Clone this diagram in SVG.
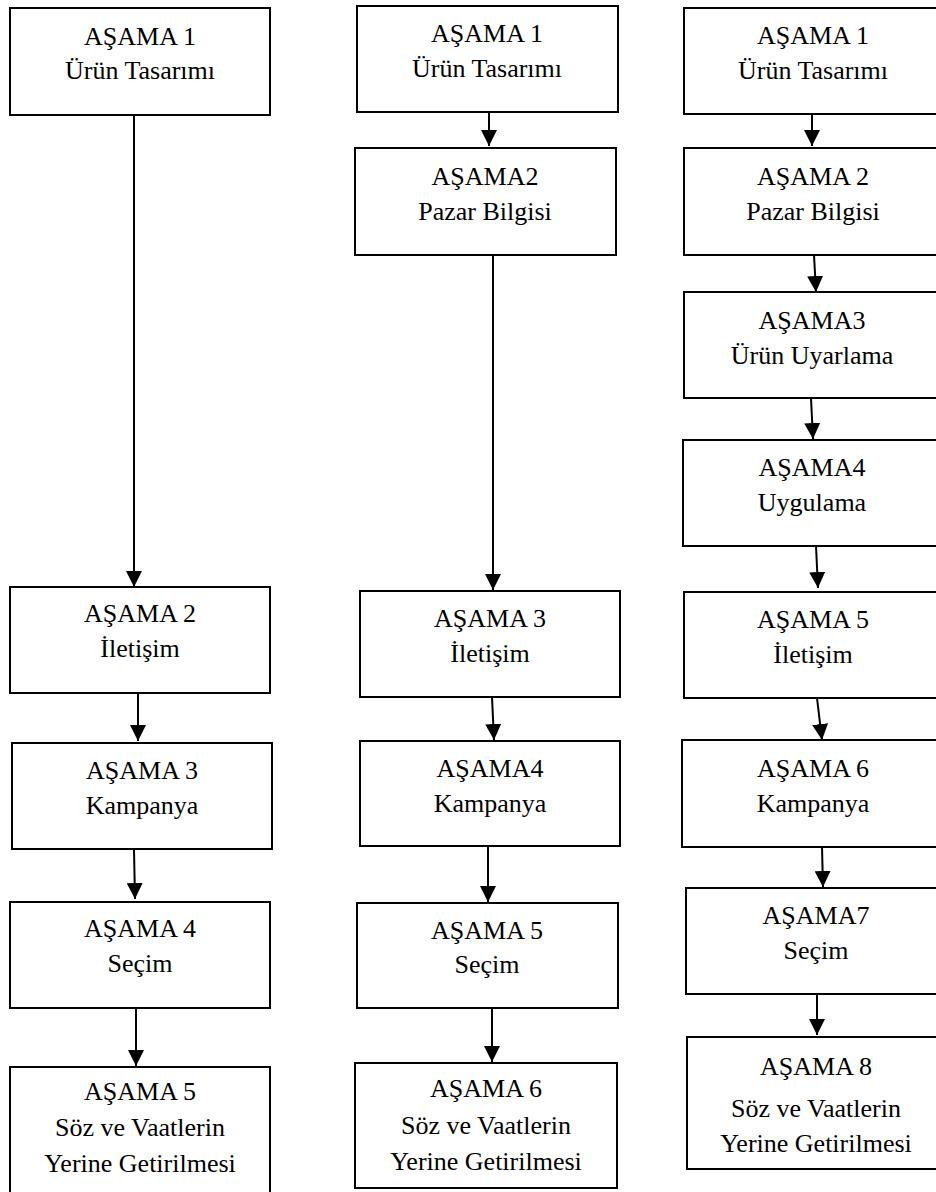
<svg xmlns="http://www.w3.org/2000/svg" width="936" height="1192" viewBox="0 0 936 1192">
  <style>
    .box { fill: #ffffff; stroke: #000000; stroke-width: 2; }
    .lbl { font-family: "Liberation Serif", "Times New Roman", serif; font-size: 26px; fill: #000000; text-anchor: middle; }
    .conn { stroke: #000000; stroke-width: 2; fill: none; marker-end: url(#head); }
  </style>
  <defs>
    <marker id="head" markerUnits="userSpaceOnUse" markerWidth="16" markerHeight="16" refX="16" refY="8" orient="auto">
      <path d="M0,0 L16,8 L0,16 Z" fill="#000000"/>
    </marker>
  </defs>
  <rect width="936" height="1192" fill="#ffffff"/>

  <!-- connectors -->
  <g id="connectors">
    <!-- left column -->
    <line class="conn" x1="134" y1="115" x2="134" y2="587"/>
    <line class="conn" x1="138" y1="693" x2="138" y2="741"/>
    <line class="conn" x1="134" y1="850" x2="135" y2="899"/>
    <line class="conn" x1="136" y1="1008" x2="136" y2="1066"/>
    <!-- middle column -->
    <line class="conn" x1="489" y1="112" x2="489" y2="146"/>
    <line class="conn" x1="493" y1="255" x2="493" y2="590"/>
    <line class="conn" x1="492" y1="697" x2="494" y2="740"/>
    <line class="conn" x1="488" y1="846" x2="488" y2="902"/>
    <line class="conn" x1="492" y1="1008" x2="492" y2="1062"/>
    <!-- right column -->
    <line class="conn" x1="812" y1="114" x2="812" y2="146"/>
    <line class="conn" x1="814" y1="255" x2="816" y2="292"/>
    <line class="conn" x1="811" y1="398" x2="813" y2="439"/>
    <line class="conn" x1="816" y1="546" x2="818" y2="588"/>
    <line class="conn" x1="817" y1="698" x2="822" y2="740"/>
    <line class="conn" x1="822" y1="847" x2="823" y2="887"/>
    <line class="conn" x1="817" y1="994" x2="817" y2="1035"/>
  </g>

  <!-- left column: 5 stages -->
  <g id="l1"><rect class="box" x="10" y="8" width="260" height="107"/>
    <text class="lbl" x="140" y="45">AŞAMA 1</text><text class="lbl" x="140" y="79">Ürün Tasarımı</text></g>
  <g id="l2"><rect class="box" x="10" y="587" width="260" height="106"/>
    <text class="lbl" x="140" y="622">AŞAMA 2</text><text class="lbl" x="140" y="657">İletişim</text></g>
  <g id="l3"><rect class="box" x="12" y="743" width="260" height="106"/>
    <text class="lbl" x="142" y="779">AŞAMA 3</text><text class="lbl" x="142" y="814">Kampanya</text></g>
  <g id="l4"><rect class="box" x="10" y="902" width="260" height="106"/>
    <text class="lbl" x="140" y="937">AŞAMA 4</text><text class="lbl" x="140" y="972">Seçim</text></g>
  <g id="l5"><rect class="box" x="10" y="1067" width="260" height="140"/>
    <text class="lbl" x="140" y="1100">AŞAMA 5</text><text class="lbl" x="140" y="1136">Söz ve Vaatlerin</text><text class="lbl" x="140" y="1172">Yerine Getirilmesi</text></g>

  <!-- middle column: 6 stages -->
  <g id="m1"><rect class="box" x="357" y="6" width="261" height="106"/>
    <text class="lbl" x="487" y="42">AŞAMA 1</text><text class="lbl" x="487" y="77">Ürün Tasarımı</text></g>
  <g id="m2"><rect class="box" x="355" y="148" width="261" height="107"/>
    <text class="lbl" x="485" y="185">AŞAMA2</text><text class="lbl" x="485" y="220">Pazar Bilgisi</text></g>
  <g id="m3"><rect class="box" x="360" y="591" width="260" height="106"/>
    <text class="lbl" x="490" y="627">AŞAMA 3</text><text class="lbl" x="490" y="662">İletişim</text></g>
  <g id="m4"><rect class="box" x="360" y="741" width="260" height="105"/>
    <text class="lbl" x="490" y="777">AŞAMA4</text><text class="lbl" x="490" y="812">Kampanya</text></g>
  <g id="m5"><rect class="box" x="357" y="903" width="261" height="105"/>
    <text class="lbl" x="487" y="939">AŞAMA 5</text><text class="lbl" x="487" y="973">Seçim</text></g>
  <g id="m6"><rect class="box" x="355" y="1063" width="262" height="125"/>
    <text class="lbl" x="486" y="1097">AŞAMA 6</text><text class="lbl" x="486" y="1134">Söz ve Vaatlerin</text><text class="lbl" x="486" y="1170">Yerine Getirilmesi</text></g>

  <!-- right column: 8 stages -->
  <g id="r1"><rect class="box" x="684" y="8" width="258" height="106"/>
    <text class="lbl" x="813" y="44">AŞAMA 1</text><text class="lbl" x="813" y="79">Ürün Tasarımı</text></g>
  <g id="r2"><rect class="box" x="684" y="148" width="259" height="107"/>
    <text class="lbl" x="813" y="185">AŞAMA 2</text><text class="lbl" x="813" y="220">Pazar Bilgisi</text></g>
  <g id="r3"><rect class="box" x="684" y="292" width="257" height="106"/>
    <text class="lbl" x="812" y="329">AŞAMA3</text><text class="lbl" x="812" y="364">Ürün Uyarlama</text></g>
  <g id="r4"><rect class="box" x="683" y="440" width="259" height="106"/>
    <text class="lbl" x="812" y="476">AŞAMA4</text><text class="lbl" x="812" y="511">Uygulama</text></g>
  <g id="r5"><rect class="box" x="684" y="592" width="258" height="106"/>
    <text class="lbl" x="813" y="628">AŞAMA 5</text><text class="lbl" x="813" y="663">İletişim</text></g>
  <g id="r6"><rect class="box" x="682" y="740" width="262" height="107"/>
    <text class="lbl" x="813" y="777">AŞAMA 6</text><text class="lbl" x="813" y="812">Kampanya</text></g>
  <g id="r7"><rect class="box" x="686" y="888" width="260" height="106"/>
    <text class="lbl" x="816" y="924">AŞAMA7</text><text class="lbl" x="816" y="959">Seçim</text></g>
  <g id="r8"><rect class="box" x="687" y="1037" width="258" height="132"/>
    <text class="lbl" x="816" y="1075">AŞAMA 8</text><text class="lbl" x="816" y="1117">Söz ve Vaatlerin</text><text class="lbl" x="816" y="1152">Yerine Getirilmesi</text></g>
</svg>
